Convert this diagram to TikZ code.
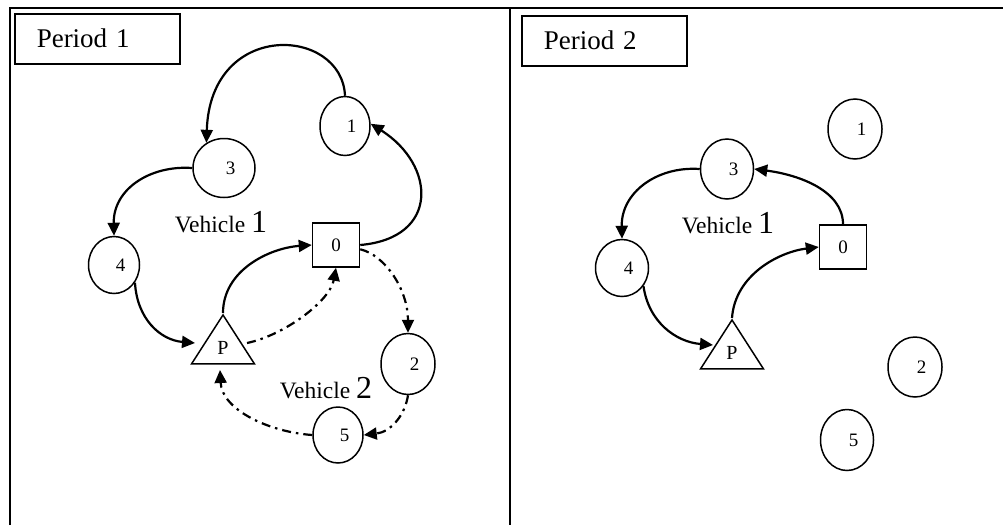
\documentclass[tikz,border=0pt]{standalone}
\usepackage{fontspec}
\setmainfont{Liberation Serif}
\usetikzlibrary{shapes.geometric,arrows.meta,calc}

% digit inside a customer node, set a little right of the centre
\newcommand\nlab[1]{\hspace*{13pt}#1}

\begin{document}
\begin{tikzpicture}[x=1pt,y=-1pt,
  frame/.style={line width=2pt},
  pbox/.style={draw, line width=1.5pt, anchor=north west,
    minimum width=165pt, minimum height=50pt, text width=121pt,
    inner xsep=22pt, inner ysep=0pt, align=left,
    font=\fontsize{27}{27}\selectfont},
  cnode/.style={ellipse, draw, line width=1.5pt, inner sep=0pt,
    font=\fontsize{19}{19}\selectfont},
  dnode/.style={rectangle, draw, line width=1.5pt, minimum width=47pt,
    minimum height=44pt, inner sep=0pt, font=\fontsize{19}{19}\selectfont},
  pnode/.style={isosceles triangle, isosceles triangle stretches,
    shape border rotate=90, draw, line width=1.5pt, minimum width=63pt,
    minimum height=49pt, inner sep=0pt, anchor=apex,
    font=\fontsize{20}{20}\selectfont},
  vlab/.style={anchor=base, inner sep=0pt, font=\fontsize{23.5}{24}\selectfont},
  route/.style={line width=2.2pt, -{Triangle[length=13pt,width=12pt]}},
  route2/.style={route, dash pattern=on 9pt off 5pt on 2.5pt off 5pt},
]
\useasboundingbox (0,0) rectangle (1003,525);

% table rules
\draw[frame] (9.5,525) -- (9.5,7.5) -- (1003,7.5);
\draw[frame] (509.5,7.5) -- (509.5,525);

% ---------------- Period 1 ----------------
\node[pbox] (t1) at (14,13) {Period 1};

\node[cnode, minimum width=50pt, minimum height=59pt] (l1) at (345,126) {\nlab{1}};
\node[cnode, minimum width=62pt, minimum height=59pt] (l3) at (224,168) {\nlab{3}};
\node[cnode, minimum width=51pt, minimum height=57pt] (l4) at (114,265) {\nlab{4}};
\node[cnode, minimum width=54pt, minimum height=61pt] (l2) at (408,364) {\nlab{2}};
\node[cnode, minimum width=50pt, minimum height=56pt] (l5) at (338,435) {\nlab{5}};
\node[dnode] (l0) at (336,245) {0};
\node[pnode] (lp) at (223,313) {P};

\node[vlab] (lv1) at (221,232) {Vehicle {\fontsize{32}{32}\selectfont 1}};
\node[vlab] (lv2) at (326,398) {Vehicle {\fontsize{32}{32}\selectfont 2}};

% vehicle 1
\draw[route] (l1.north) .. controls +(-3,-69) and +(4,-124) .. (l3.125);
\draw[route] (l0.east) .. controls +(80,-7) and +(65,41) .. (l1.5);
\draw[route] (l3.west) .. controls +(-43,-3) and +(-1,-46) .. (l4.north);
\draw[route] (l4.-40) .. controls +(2,36) and +(-35,-3) .. ($(lp.apex)+(-28,30)$);
\draw[route] (lp.apex) .. controls +(0,-43) and +(-42,3) .. (l0.west);
% vehicle 2
\draw[route2] ($(lp.apex)+(24,30)$) .. controls +(38,-8) and +(-6,33) .. (l0.south);
\draw[route2] (l0.-10) .. controls +(25,6) and +(0,-43) .. (l2.north);
\draw[route2] (l2.south) .. controls +(-3,20) and +(27,-3) .. (l5.east);
\draw[route2] (l5.west) .. controls +(-43,-3) and +(2,40) .. ($(lp.apex)+(-3,57)$);

% ---------------- Period 2 ----------------
\node[pbox] (t2) at (521,15) {Period 2};

\node[cnode, minimum width=54pt, minimum height=60pt] (r1) at (855,129) {\nlab{1}};
\node[cnode, minimum width=53pt, minimum height=60pt] (r3) at (727,169) {\nlab{3}};
\node[cnode, minimum width=53pt, minimum height=57pt] (r4) at (622,268) {\nlab{4}};
\node[cnode, minimum width=54pt, minimum height=60pt] (r2) at (915,367) {\nlab{2}};
\node[cnode, minimum width=53pt, minimum height=61pt] (r5) at (847,440) {\nlab{5}};
\node[dnode] (r0) at (843,247) {0};
\node[pnode] (rp) at (732,318) {P};

\node[vlab] (rv1) at (728,233) {Vehicle {\fontsize{32}{32}\selectfont 1}};

\draw[route] (r0.north) .. controls +(0,-33) and +(46,6) .. (r3.east);
\draw[route] (r3.west) .. controls +(-43,-3) and +(-1,-46) .. (r4.north);
\draw[route] (r4.-40) .. controls +(5,36) and +(-37,-3) .. ($(rp.apex)+(-19,27)$);
\draw[route] (rp.apex) .. controls +(3,-43) and +(-40,5) .. (r0.west);
\end{tikzpicture}
\end{document}
